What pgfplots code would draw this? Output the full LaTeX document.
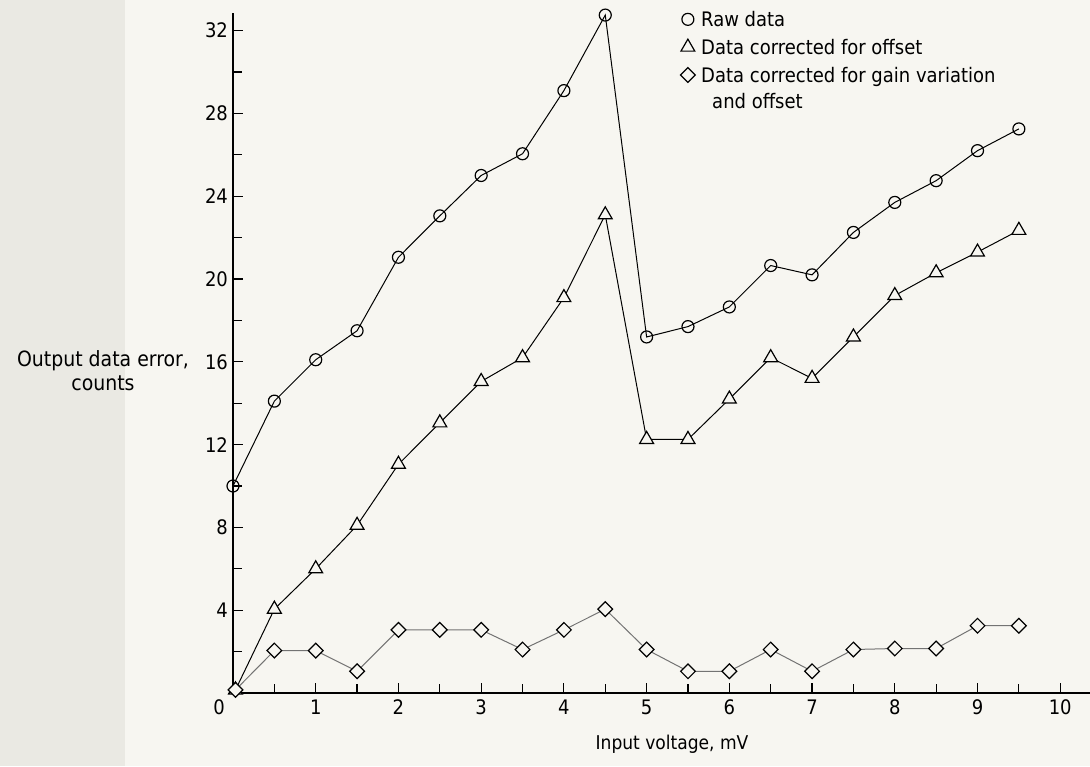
\documentclass[border=0pt]{standalone}
\usepackage{fontspec}
\setmainfont{DejaVu Sans Condensed}
\usepackage{pgfplots}
\pgfplotsset{compat=1.18}
\definecolor{paper}{HTML}{F7F6F1}
\definecolor{strip}{HTML}{EAE9E3}
\begin{document}
\begin{tikzpicture}
\path[use as bounding box] (0,0) rectangle (545pt,383pt);
\fill[paper] (0,0) rectangle (545pt,383pt);
\fill[strip] (0,0) rectangle (62.5pt,383pt);
\begin{axis}[
  at={(116.5pt,36.5pt)}, anchor=south west,
  scale only axis, width=428.5pt, height=340pt,
  xmin=0, xmax=10.36, ymin=0, ymax=32.85,
  axis lines=left, axis line style={-, line width=0.8pt},
  clip=false, tick align=inside,
  xtick={1,...,10}, minor xtick={0.5,1.5,...,9.5},
  ytick={4,8,...,32}, minor ytick={2,6,...,30},
  extra x ticks={0}, extra x tick style={major tick length=0pt, xticklabel style={xshift=-7pt}},
  major tick length=5pt, minor tick length=4.5pt,
  tick style={line width=0.6pt, black},
  tick label style={font=\fontsize{10}{12}\selectfont},
  /pgf/number format/assume math mode=true,
  yticklabel style={xshift=1pt},
  legend style={at={(axis cs:5.405,33.22)}, anchor=north west, draw=none, fill=none,
    inner sep=0pt, row sep=0pt, column sep=1pt,
    font=\fontsize{10}{12}\selectfont, cells={anchor=base west, inner ysep=0pt}},
  legend image code/.code={\draw[#1] plot[only marks] coordinates {(0pt,3.6pt)};},
]
\addplot[black, line width=0.5pt, mark=o, mark size=3pt, mark options={fill=paper, line width=0.6pt}]
 coordinates {(0,10) (0.5,14.1) (1,16.1) (1.5,17.5) (2,21.05) (2.5,23.05) (3,25) (3.5,26.05) (4,29.1) (4.5,32.75) (5,17.2) (5.5,17.7) (6,18.65) (6.5,20.65) (7,20.2) (7.5,22.25) (8,23.7) (8.5,24.75) (9,26.2) (9.5,27.25)};
\addlegendentry{\strut Raw data}
\addplot[black, line width=0.5pt, mark=triangle*, mark size=4pt, mark options={fill=paper, draw=black, line width=0.6pt}]
 coordinates {(0.03,0.15) (0.5,4.05) (1,6) (1.5,8.1) (2,11.05) (2.5,13.05) (3,15.05) (3.5,16.2) (4,19.1) (4.5,23.1) (5,12.25) (5.5,12.25) (6,14.2) (6.5,16.2) (7,15.2) (7.5,17.2) (8,19.2) (8.5,20.3) (9,21.3) (9.5,22.35)};
\addlegendentry{\strut Data corrected for offset}
\addplot[black!55, line width=0.5pt, mark=square*, mark size=2.6pt, mark options={rotate=45, fill=paper, draw=black, line width=0.6pt}]
 coordinates {(0.03,0.15) (0.5,2.05) (1,2.05) (1.5,1.05) (2,3.05) (2.5,3.05) (3,3.05) (3.5,2.1) (4,3.05) (4.5,4.05) (5,2.1) (5.5,1.05) (6,1.05) (6.5,2.1) (7,1.05) (7.5,2.1) (8,2.15) (8.5,2.15) (9,3.25) (9.5,3.25)};
\addlegendentry{\begin{tabular}[t]{@{}l@{}}Data corrected for gain variation\\[1pt]\hspace{5.5pt}and offset\end{tabular}}
\end{axis}
\node[align=center, font=\fontsize{10.5}{12}\selectfont] at (51.5pt,197.5pt) {Output data error,\\counts};
\node[font=\fontsize{9.5}{11}\selectfont] at (336pt,11pt) {Input voltage, mV};
\end{tikzpicture}
\end{document}
